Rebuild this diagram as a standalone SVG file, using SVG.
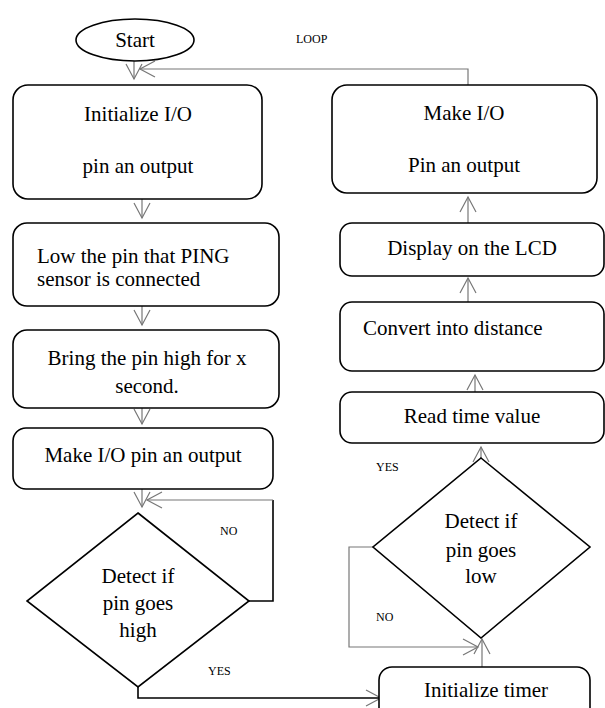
<svg xmlns="http://www.w3.org/2000/svg" width="605" height="708" viewBox="0 0 605 708">
<style>
.box{fill:#fff;stroke:#000;stroke-width:1.6}
.t{font-family:"Liberation Serif","Times New Roman",serif;font-size:21px;fill:#000}
.c{text-anchor:middle}
.s{font-family:"Liberation Serif","Times New Roman",serif;font-size:12px;fill:#000}
.ln{fill:none;stroke:#777;stroke-width:1.2}
.dk{fill:none;stroke:#000;stroke-width:1.6}
</style>
<defs>
<marker id="ah" markerUnits="userSpaceOnUse" markerWidth="18" markerHeight="20" viewBox="0 0 18 20" refX="16" refY="9" orient="auto">
<path d="M1,1 L16,9 L1,17" fill="none" stroke="#777" stroke-width="1.2"/>
</marker>
</defs>
<g id="connectors">
<line class="ln" x1="134" y1="61" x2="134" y2="79" marker-end="url(#ah)"/>
<path class="ln" d="M468,85 V69 H140" marker-end="url(#ah)"/>
<line class="ln" x1="142" y1="199" x2="142" y2="218" marker-end="url(#ah)"/>
<line class="ln" x1="142" y1="306" x2="142" y2="325" marker-end="url(#ah)"/>
<line class="ln" x1="142" y1="408" x2="142" y2="424" marker-end="url(#ah)"/>
<line class="ln" x1="142" y1="489" x2="142" y2="507" marker-end="url(#ah)"/>
<path class="dk" d="M249,601 H273 V500"/>
<path class="ln" d="M273,500 H147" marker-end="url(#ah)"/>
<path class="dk" d="M138,687 V698 H381" marker-end="url(#ah)"/>
<line class="ln" x1="482" y1="667" x2="482" y2="639" marker-end="url(#ah)"/>
<path class="ln" d="M373,547 H349 V647 H478" marker-end="url(#ah)"/>
<line class="ln" x1="481" y1="458" x2="481" y2="447" marker-end="url(#ah)"/>
<line class="ln" x1="475" y1="392" x2="475" y2="375" marker-end="url(#ah)"/>
<line class="ln" x1="468" y1="302" x2="468" y2="278" marker-end="url(#ah)"/>
<line class="ln" x1="468" y1="223" x2="468" y2="197" marker-end="url(#ah)"/>
<text class="s" x="296" y="43">LOOP</text>
<text class="s" x="220" y="535">NO</text>
<text class="s" x="208" y="675">YES</text>
<text class="s" x="376" y="471">YES</text>
<text class="s" x="376" y="621">NO</text>
</g>
<g id="start">
<ellipse class="box" cx="135" cy="40" rx="59" ry="21"/>
<text class="t c" x="135" y="47">Start</text>
</g>
<g id="init-io">
<rect class="box" x="13" y="85" width="249" height="114" rx="15"/>
<text class="t c" x="138" y="121">Initialize I/O</text>
<text class="t c" x="138" y="173">pin an output</text>
</g>
<g id="low-pin">
<rect class="box" x="13" y="223" width="266" height="83" rx="14"/>
<text class="t" x="37" y="263">Low the pin that PING</text>
<text class="t" x="37" y="286">sensor is connected</text>
</g>
<g id="bring-high">
<rect class="box" x="13" y="330" width="266" height="78" rx="14"/>
<text class="t c" x="147" y="365">Bring the pin high for x</text>
<text class="t c" x="147" y="393">second.</text>
</g>
<g id="make-io-1">
<rect class="box" x="13" y="428" width="260" height="61" rx="13"/>
<text class="t c" x="143" y="462">Make I/O pin an output</text>
</g>
<g id="detect-high">
<polygon class="box" points="138,513 249,601 138,687 27,601"/>
<text class="t c" x="138" y="583">Detect if</text>
<text class="t c" x="138" y="610">pin goes</text>
<text class="t c" x="138" y="637">high</text>
</g>
<g id="init-timer">
<rect class="box" x="379" y="667" width="211" height="60" rx="13"/>
<text class="t c" x="486" y="697">Initialize timer</text>
</g>
<g id="detect-low">
<polygon class="box" points="481,458 590,547 481,638 373,547"/>
<text class="t c" x="481" y="528">Detect if</text>
<text class="t c" x="481" y="557">pin goes</text>
<text class="t c" x="481" y="583">low</text>
</g>
<g id="read-time">
<rect class="box" x="340" y="392" width="264" height="51" rx="12"/>
<text class="t c" x="472" y="423">Read time value</text>
</g>
<g id="convert">
<rect class="box" x="340" y="302" width="264" height="69" rx="12"/>
<text class="t" x="363" y="335">Convert into distance</text>
</g>
<g id="display">
<rect class="box" x="340" y="223" width="264" height="53" rx="12"/>
<text class="t c" x="472" y="255">Display on the LCD</text>
</g>
<g id="make-io-2">
<rect class="box" x="332" y="85" width="265" height="108" rx="15"/>
<text class="t c" x="464" y="120">Make I/O</text>
<text class="t c" x="464" y="172">Pin an output</text>
</g>
</svg>
